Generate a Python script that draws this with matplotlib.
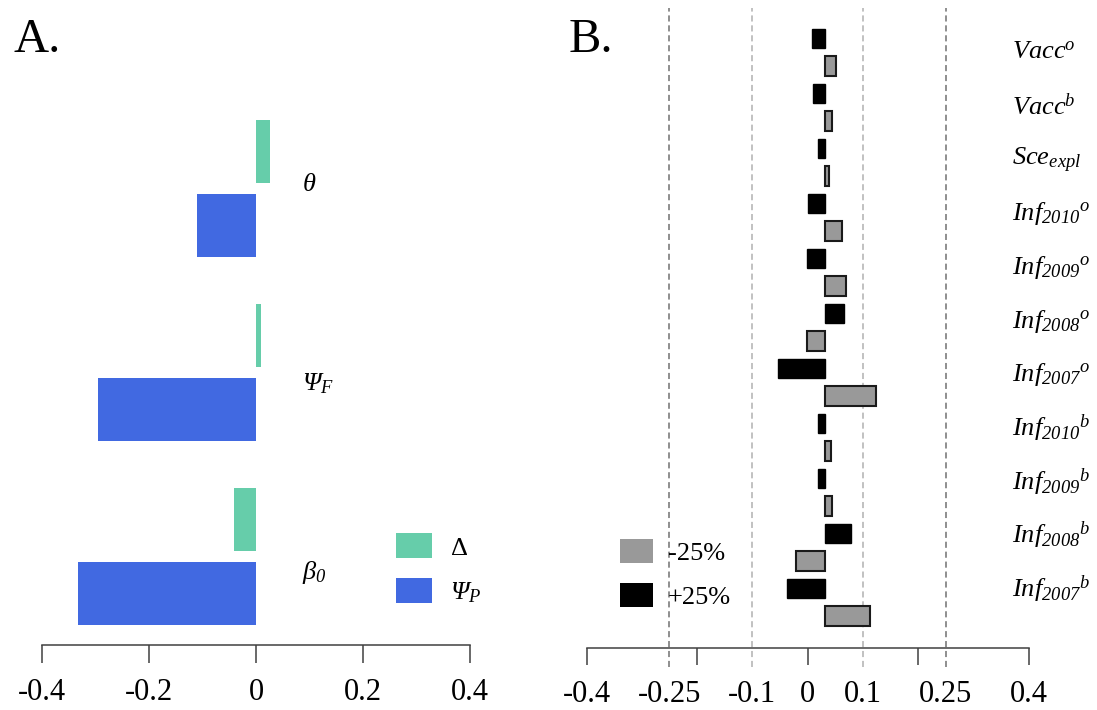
import numpy as np
import matplotlib
matplotlib.use("Agg")
import matplotlib.pyplot as plt
from matplotlib.patches import Patch

plt.rcParams['font.family'] = ['Liberation Serif', 'DejaVu Serif']
plt.rcParams['mathtext.fontset'] = 'custom'
plt.rcParams['mathtext.rm'] = 'Liberation Serif'
plt.rcParams['mathtext.it'] = 'Liberation Serif:italic'
# \mathsf is used as a "true italic" slot so digits and capital Greek are slanted too
plt.rcParams['mathtext.sf'] = 'Liberation Serif:italic'
plt.rcParams['mathtext.bf'] = 'Liberation Serif:bold'
plt.rcParams['axes.unicode_minus'] = False

# ======= Panel A data (bottom to top) =======
params_a = [r'$\beta_{\mathsf{0}}$', r'$\mathsf{\Psi}_{\mathsf{F}}$', r'$\theta$']
delta_vals = [-0.042, 0.009, 0.027]
psi_p_vals = [-0.333, -0.295, -0.110]
ticks_a = [-0.4, -0.2, 0, 0.2, 0.4]
ticklabels_a = ['-0.4', '-0.2', '0', '0.2', '0.4']

# ======= Panel B data (top to bottom) =======
params_b = [r'$\mathsf{Vacc}^{\mathsf{o}}$', r'$\mathsf{Vacc}^{\mathsf{b}}$',
            r'$\mathsf{Sce}_{\mathsf{expl}}$',
            r'${\mathsf{Inf}_{\mathsf{2010}}}^{\mathsf{o}}$', r'${\mathsf{Inf}_{\mathsf{2009}}}^{\mathsf{o}}$',
            r'${\mathsf{Inf}_{\mathsf{2008}}}^{\mathsf{o}}$', r'${\mathsf{Inf}_{\mathsf{2007}}}^{\mathsf{o}}$',
            r'${\mathsf{Inf}_{\mathsf{2010}}}^{\mathsf{b}}$', r'${\mathsf{Inf}_{\mathsf{2009}}}^{\mathsf{b}}$',
            r'${\mathsf{Inf}_{\mathsf{2008}}}^{\mathsf{b}}$', r'${\mathsf{Inf}_{\mathsf{2007}}}^{\mathsf{b}}$']
plus25 = [-0.024, -0.022, -0.013, -0.031, -0.033, 0.034, -0.086, -0.013, -0.013, 0.047, -0.069]
minus25 = [0.020, 0.012, 0.007, 0.030, 0.038, -0.033, 0.092, 0.011, 0.013, -0.052, 0.081]
tick_marks_b = [-0.4, -0.2, 0, 0.2, 0.4]
ticks_b = [-0.4, -0.25, -0.1, 0, 0.1, 0.25, 0.4]
ticklabels_b = ['-0.4', '-0.25', '-0.1', '0', '0.1', '0.25', '0.4']
ref_lines = [-0.25, -0.1, 0.1, 0.25]

W, H = 1097, 710
fig = plt.figure(figsize=(W / 100, H / 100), dpi=100)

def px_axes(left, top, right, bottom):
    return fig.add_axes([left / W, 1 - bottom / H, (right - left) / W, (bottom - top) / H])

FS = 19
TICK_FS = 22
axis_col = '#404040'

# ======= Panel A =======
axA = px_axes(42, 100, 470, 645)
group_step, pair_off = 2.92, 1.17
ya = np.arange(len(params_a)) * group_step
axA.barh(ya, psi_p_vals, height=1.0, color='#4169E1', lw=0)
axA.barh(ya + pair_off, delta_vals, height=1.0, color='#66CDAA', lw=0)
axA.set_xlim(-0.4, 0.4)
axA.set_ylim(-0.825, 7.825)
label_y_a = [0.32, 3.33, 6.48]
for lab, y in zip(params_a, label_y_a):
    axA.text(0.086, y, lab, fontsize=FS, va='center', ha='left')
for s in ['top', 'left', 'right']:
    axA.spines[s].set_visible(False)
axA.spines['bottom'].set_bounds(-0.4, 0.4)
axA.spines['bottom'].set_color(axis_col)
axA.spines['bottom'].set_linewidth(1.1)
axA.set_yticks([])
axA.set_xticks(ticks_a)
axA.set_xticklabels(ticklabels_a)
axA.tick_params(axis='x', length=13, width=1.1, color=axis_col, labelsize=TICK_FS, pad=11)
axA.legend(handles=[Patch(color='#66CDAA', lw=0, label=r'$\Delta$'),
                    Patch(color='#4169E1', lw=0, label=r'$\mathsf{\Psi}_{\mathsf{P}}$')],
           loc='upper left', bbox_to_anchor=(396 / W, 1 - 533 / H), bbox_transform=fig.transFigure,
           frameon=False, fontsize=FS, borderpad=0, borderaxespad=0,
           handlelength=1.36, handleheight=1.1, labelspacing=0.68, handletextpad=0.68)

# ======= Panel B =======
axB = px_axes(586.5, 8, 1028.5, 667)
bar_origin = 0.032   # bars in the original are drawn from a slightly shifted origin
k = np.arange(len(params_b))
axB.barh(2 * k, plus25, left=bar_origin, height=0.71, color='black', edgecolor='black', lw=1)
axB.barh(2 * k + 1, minus25, left=bar_origin, height=0.71, color='#999999', edgecolor='#1a1a1a', lw=1.5)
for x in ref_lines:
    axB.axvline(x, color='#707070' if abs(x) > 0.2 else '#b0b0b0', lw=1.1, ls=(0, (4, 2.5)), zorder=0)
axB.set_xlim(-0.4, 0.4)
axB.set_ylim(22.855, -1.109)
label_y_b = 0.53 + 1.95 * k
for lab, y in zip(params_b, label_y_b):
    axB.text(0.370, y, lab, fontsize=FS, va='center', ha='left')
for s in ['top', 'left', 'right']:
    axB.spines[s].set_visible(False)
axB.spines['bottom'].set_position(('axes', 19 / 659))
axB.spines['bottom'].set_bounds(-0.4, 0.4)
axB.spines['bottom'].set_color(axis_col)
axB.spines['bottom'].set_linewidth(1.1)
axB.set_yticks([])
axB.xaxis.remove_overlapping_locs = False
axB.set_xticks(ticks_b)
axB.set_xticklabels(ticklabels_b)
axB.set_xticks(tick_marks_b, minor=True)
axB.tick_params(axis='x', which='major', length=0, labelsize=TICK_FS, pad=23)
axB.tick_params(axis='x', which='minor', length=12, width=1.1, color=axis_col)
axB.legend(handles=[Patch(color='#999999', lw=0, label='-25%'),
                    Patch(color='black', lw=0, label='+25%')],
           loc='upper left', bbox_to_anchor=(620 / W, 1 - 539 / H), bbox_transform=fig.transFigure,
           frameon=False, fontsize=FS, borderpad=0, borderaxespad=0,
           handlelength=1.25, handleheight=1.0, labelspacing=0.69, handletextpad=0.57)

fig.text(14 / W, 1 - 52 / H, 'A.', fontsize=35, va='baseline', ha='left')
fig.text(569 / W, 1 - 52 / H, 'B.', fontsize=35, va='baseline', ha='left')

fig.savefig('out.png', dpi=100)
